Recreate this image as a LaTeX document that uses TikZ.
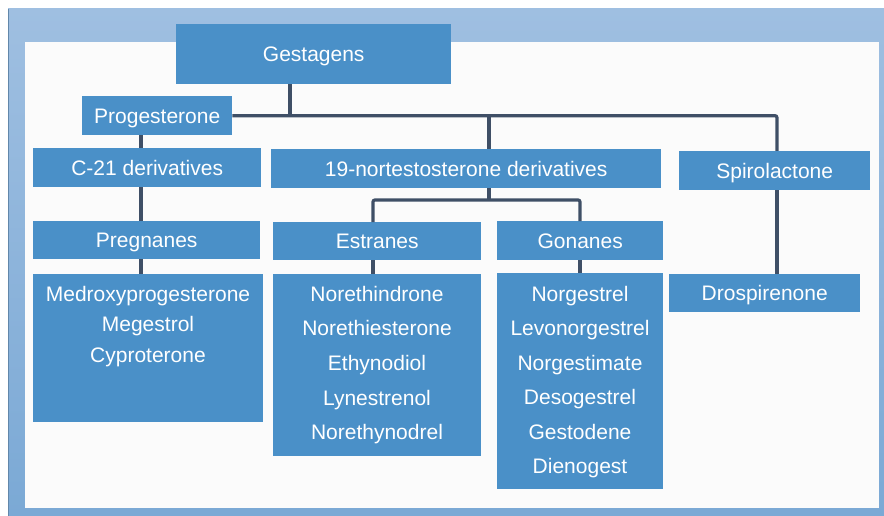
\documentclass[tikz,border=0pt]{standalone}
\usepackage{fontspec}
\setmainfont{Liberation Sans}
\definecolor{boxblue}{HTML}{4A90C8}
\definecolor{linecol}{HTML}{3F4F66}
\definecolor{frametop}{HTML}{9FBFE1}
\definecolor{framebot}{HTML}{7BA9D5}
\definecolor{innerbg}{HTML}{FBFBFB}
\begin{document}
\begin{tikzpicture}[x=1pt,y=-1pt,
  box/.style={fill=boxblue, draw=none, inner sep=0pt, anchor=north west,
    text=white, font=\fontsize{21}{25}\selectfont, text height=15pt, text depth=0pt},
  lbl/.style={text=white, font=\fontsize{21}{25}\selectfont, inner sep=0pt, anchor=base},
  conn/.style={draw=linecol, line width=3.2pt, rounded corners=2pt}]
% canvas and frame
\useasboundingbox (0,0) rectangle (884,516);
\fill[white] (0,0) rectangle (884,516);
\shade[top color=frametop, bottom color=framebot] (8,9) rectangle (884,516);
\draw[framebot!80!black, line width=0.6pt] (8.3,9.3) -- (8.3,516);
\fill[innerbg] (25,42) rectangle (879,508);
% lanes
\coordinate (lA) at (141,0);
\coordinate (lB) at (290,0);
\coordinate (lC) at (489,0);
\coordinate (lD) at (373,0);
\coordinate (lE) at (580,0);
\coordinate (lF) at (777,0);
\coordinate (jn) at (0,200);
% connectors first (behind boxes)
\begin{scope}
\node[box, minimum width=275pt, minimum height=60pt] (gest) at (176,24) {Gestagens};
\node[box, minimum width=150pt, minimum height=39pt] (prog) at (82,96) {Progesterone};
\node[box, minimum width=228pt, minimum height=39pt] (c21) at (33,148) {C-21 derivatives};
\node[box, minimum width=390pt, minimum height=39pt] (nort) at (271,149) {19-nortestosterone derivatives};
\node[box, minimum width=191pt, minimum height=39pt] (spiro) at (679,151) {Spirolactone};
\node[box, minimum width=227pt, minimum height=38pt] (preg) at (33,221) {Pregnanes};
\node[box, minimum width=208pt, minimum height=38pt] (estr) at (273,222) {Estranes};
\node[box, minimum width=166pt, minimum height=39pt] (gon) at (497,221) {Gonanes};
\node[box, minimum width=230pt, minimum height=148pt] (pregl) at (33,274) {};
\node[box, minimum width=208pt, minimum height=182pt] (estrl) at (273,274) {};
\node[box, minimum width=166pt, minimum height=216pt] (gonl) at (497,273) {};
\node[box, minimum width=191pt, minimum height=38pt] (dros) at (669,274) {Drospirenone};
\end{scope}
% connectors
\draw[conn] (gest.south -| lB) -- (prog.east -| lB);
\draw[conn] (prog.east) -- (prog.east -| lF) -- (spiro.north -| lF);
\draw[conn] (prog.east -| lC) -- (nort.north -| lC);
\draw[conn] (prog.south -| lA) -- (c21.north -| lA);
\draw[conn] (c21.south -| lA) -- (preg.north -| lA);
\draw[conn] (preg.south -| lA) -- (pregl.north -| lA);
\draw[conn] (nort.south -| lC) -- (jn -| lC);
\draw[conn] (estr.north -| lD) -- (jn -| lD) -- (jn -| lE) -- (gon.north -| lE);
\draw[conn] (estr.south -| lD) -- (estrl.north -| lD);
\draw[conn] (gon.south -| lE) -- (gonl.north -| lE);
\draw[conn] (spiro.south -| lF) -- (dros.north -| lF);
% list texts
\node[lbl] (p1) at (148,301) {Medroxyprogesterone};
\node[lbl] (p2) at (148,331.5) {Megestrol};
\node[lbl] (p3) at (148,362) {Cyproterone};
\node[lbl] (e1) at (377,301) {Norethindrone};
\node[lbl] (e2) at (377,335.7) {Norethiesterone};
\node[lbl] (e3) at (377,370.4) {Ethynodiol};
\node[lbl] (e4) at (377,405.1) {Lynestrenol};
\node[lbl] (e5) at (377,439.8) {Norethynodrel};
\node[lbl] (g1) at (580,301) {Norgestrel};
\node[lbl] (g2) at (580,335.5) {Levonorgestrel};
\node[lbl] (g3) at (580,370) {Norgestimate};
\node[lbl] (g4) at (580,404.5) {Desogestrel};
\node[lbl] (g5) at (580,439) {Gestodene};
\node[lbl] (g6) at (580,473.5) {Dienogest};
\end{tikzpicture}
\end{document}
